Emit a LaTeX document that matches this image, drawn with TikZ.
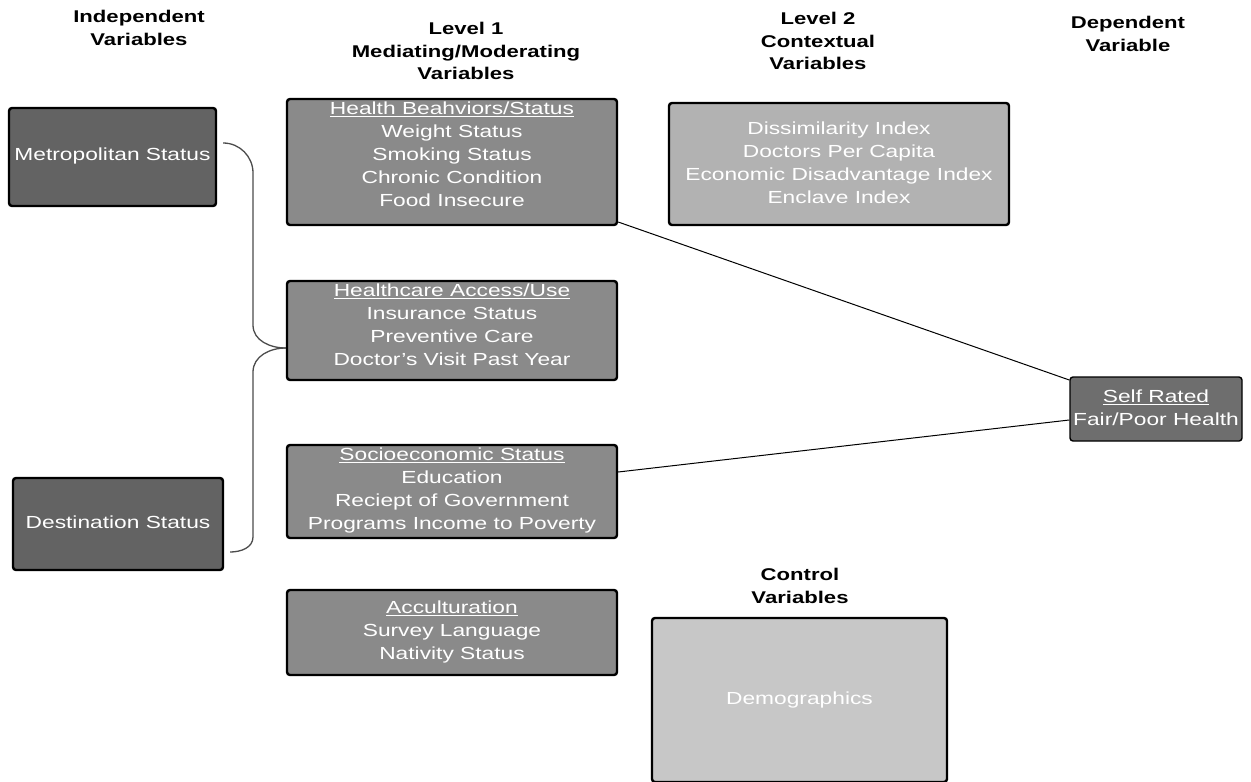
\documentclass[tikz,border=0pt]{standalone}
\usepackage{fontspec}
\setmainfont[FakeStretch=1.3]{Liberation Sans}
\begin{document}
\begin{tikzpicture}[x=1pt,y=-1pt,
  box/.style={draw=black, line width=2.4pt, rounded corners=3pt, text=white, align=center, font=\fontsize{17.5}{23}\selectfont, inner sep=0pt},
  txt/.style={text=white, align=center, font=\fontsize{17.5}{23}\selectfont, inner sep=0pt},
  head/.style={align=center, font=\bfseries\fontsize{17}{22.5}\selectfont},
  conn/.style={draw=black!70, line width=1.3pt},
  lnk/.style={draw=black, line width=1pt}]
\useasboundingbox (0,0) rectangle (1251,782);
% headers
\node[head] (h1) at (139,28) {Independent\\Variables};
\node[head] (h2) at (466,51) {Level 1\\Mediating/Moderating\\Variables};
\node[head] (h3) at (818,41) {Level 2\\Contextual\\Variables};
\node[head] (h4) at (1128,34) {Dependent\\Variable};
\node[head] (h5) at (800,586) {Control\\Variables};
% independent
\node[box, fill=black!61, minimum width=207pt, minimum height=98pt] (metro) at (112.5,157) {};
\node[txt] (metrot) at ([yshift=1pt]metro.center) {Metropolitan Status};
\node[box, fill=black!61, minimum width=210pt, minimum height=92pt] (dest) at (118,524) {};
\node[txt] (destt) at ([yshift=2pt]dest.center) {Destination Status};
% level 1
\node[box, fill=black!46, minimum width=330pt, minimum height=126pt] (hb) at (452,162) {};
\node[txt] (hbt) at ([yshift=8pt]hb.center) {\underline{Health Beahviors/Status}\\Weight Status\\Smoking Status\\Chronic Condition\\Food Insecure};
\node[box, fill=black!46, minimum width=330pt, minimum height=99pt] (hc) at (452,330.5) {};
\node[txt] (hct) at ([yshift=6pt]hc.center) {\underline{Healthcare Access/Use}\\Insurance Status\\Preventive Care\\Doctor's Visit Past Year};
\node[box, fill=black!46, minimum width=330pt, minimum height=93pt] (ses) at (452,491.5) {};
\node[txt] (sest) at ([yshift=1pt]ses.center) {\underline{Socioeconomic Status}\\Education\\Reciept of Government\\Programs Income to Poverty};
\node[box, fill=black!46, minimum width=330pt, minimum height=85pt] (acc) at (452,632.5) {};
\node[txt] (acct) at ([yshift=0.5pt]acc.center) {\underline{Acculturation}\\Survey Language\\Nativity Status};
% level 2
\node[box, fill=black!30, minimum width=340pt, minimum height=122pt] (l2) at (839,164) {};
\node[txt] (l2t) at ([yshift=1pt]l2.center) {Dissimilarity Index\\Doctors Per Capita\\Economic Disadvantage Index\\Enclave Index};
% dependent
\node[box, fill=black!57, line width=1.4pt, minimum width=172pt, minimum height=64pt] (srh) at (1156,409) {};
\node[txt] (srht) at ([yshift=1pt]srh.center) {\underline{Self Rated}\\Fair/Poor Health};
% control
\node[box, fill=black!22, minimum width=295pt, minimum height=164pt] (demo) at (799.5,700) {};
\node[txt] (demot) at (demo.center) {Demographics};
% brace connectors
\coordinate (j) at (hc.west |- 0,348);
\draw[conn] ([xshift=6pt]metro.east |- 0,143) to[out=0,in=90] (253,173) -- (253,325) to[out=-90,in=180] (j);
\draw[conn] ([xshift=6pt]dest.east |- 0,552) to[out=0,in=-90] (253,537) -- (253,372) to[out=90,in=180] (j);
% links
\draw[lnk] (hb.south east |- 0,222) -- (srh.west |- 0,380);
\draw[lnk] (ses.east |- 0,472) -- (srh.west |- 0,420);
\end{tikzpicture}
\end{document}
